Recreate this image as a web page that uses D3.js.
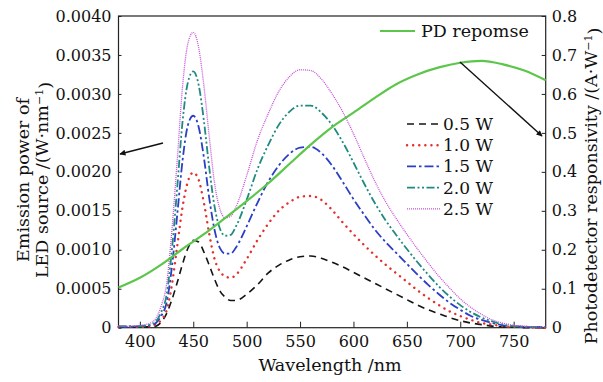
<!DOCTYPE html>
<html>
<head>
<meta charset="utf-8">
<script src="https://cdn.jsdelivr.net/npm/d3@7"></script>
<style>
  body { margin: 0; background: #fff; }
  svg text { font-family: "DejaVu Serif", serif; fill: #111; }
</style>
</head>
<body>
<div id="chart"></div>
<script>
// wavelength grid (nm)
const wavelengths = [380, 390, 400, 410, 415, 420, 425, 430, 435, 440, 445, 450, 455, 460, 465, 470, 475, 480, 485, 490,
  500, 510, 520, 530, 540, 550, 560, 570, 580, 590, 600, 610, 620, 630, 640, 650, 660, 670, 680, 690,
  700, 710, 720, 730, 740, 750, 760, 770, 780];

// emission power, W/nm
const p05 = [0.00001, 0.00001, 0.00001, 0.00001, 0.00002, 0.00007, 0.00018, 0.00036, 0.00058, 0.00082, 0.00102, 0.00112, 0.00110, 0.00097, 0.00080, 0.00062, 0.00047, 0.00039, 0.00035, 0.00035,
  0.00043, 0.00055, 0.00070, 0.00080, 0.00087, 0.00091, 0.00092, 0.00089, 0.00084, 0.00078, 0.00071, 0.00064, 0.00057, 0.00050, 0.00043, 0.00036, 0.00029, 0.00023, 0.00018, 0.00013,
  0.00009, 0.00006, 0.00004, 0.00002, 0.00001, 0.00001, 0, 0, 0];
const p10 = [0.00001, 0.00001, 0.00001, 0.00002, 0.00004, 0.00010, 0.00022, 0.00055, 0.00105, 0.00155, 0.00188, 0.00199, 0.00190, 0.00160, 0.00120, 0.00088, 0.00072, 0.00066, 0.00064, 0.00068,
  0.00088, 0.00112, 0.00133, 0.00150, 0.00161, 0.00168, 0.00169, 0.00164, 0.00151, 0.00135, 0.00120, 0.00106, 0.00093, 0.00081, 0.00070, 0.00059, 0.00048, 0.00038, 0.00029, 0.00021,
  0.00015, 0.00010, 0.00006, 0.00004, 0.00002, 0.00001, 0.00001, 0, 0];
const p15 = [0.00001, 0.00001, 0.00002, 0.00003, 0.00006, 0.00015, 0.00032, 0.00078, 0.00145, 0.00215, 0.00260, 0.00272, 0.00258, 0.00218, 0.00166, 0.00125, 0.00102, 0.00095, 0.00095, 0.00103,
  0.00130, 0.00160, 0.00187, 0.00208, 0.00223, 0.00231, 0.00232, 0.00224, 0.00208, 0.00187, 0.00165, 0.00145, 0.00126, 0.00110, 0.00096, 0.00082, 0.00068, 0.00055, 0.00043, 0.00032,
  0.00023, 0.00015, 0.00010, 0.00006, 0.00003, 0.00002, 0.00001, 0.00001, 0.00001];
const p20 = [0.00002, 0.00002, 0.00002, 0.00004, 0.00008, 0.00020, 0.00042, 0.00100, 0.00180, 0.00265, 0.00315, 0.00329, 0.00312, 0.00265, 0.00205, 0.00155, 0.00127, 0.00118, 0.00119, 0.00130,
  0.00164, 0.00203, 0.00234, 0.00260, 0.00277, 0.00285, 0.00285, 0.00276, 0.00260, 0.00238, 0.00212, 0.00185, 0.00160, 0.00138, 0.00119, 0.00101, 0.00084, 0.00068, 0.00053, 0.00040,
  0.00029, 0.00020, 0.00013, 0.00008, 0.00004, 0.00002, 0.00001, 0.00001, 0.00001];
const p25 = [0.00002, 0.00002, 0.00003, 0.00006, 0.00012, 0.00028, 0.00056, 0.00125, 0.00215, 0.00310, 0.00365, 0.00379, 0.00360, 0.00310, 0.00245, 0.00185, 0.00152, 0.00141, 0.00143, 0.00155,
  0.00195, 0.00240, 0.00274, 0.00303, 0.00322, 0.00331, 0.00330, 0.00319, 0.00300, 0.00277, 0.00249, 0.00218, 0.00188, 0.00162, 0.00140, 0.00120, 0.00101, 0.00083, 0.00066, 0.00051,
  0.00037, 0.00026, 0.00017, 0.00010, 0.00006, 0.00003, 0.00002, 0.00001, 0.00001];

// photodetector responsivity, A/W
const pdWavelengths = [380, 400, 420, 440, 460, 480, 500, 520, 540, 560, 580, 600, 620, 640, 660, 680, 700, 720, 740, 760, 780];
const pdResponse = [0.103, 0.128, 0.162, 0.202, 0.240, 0.282, 0.325, 0.370, 0.420, 0.470, 0.515, 0.552, 0.590, 0.625, 0.650, 0.668, 0.680, 0.685, 0.676, 0.660, 0.635];

const seriesNames = ["0.5 W", "1.0 W", "1.5 W", "2.0 W", "2.5 W"];
const xTicks = [400, 450, 500, 550, 600, 650, 700, 750];
const leftTicks = [0, 0.0005, 0.001, 0.0015, 0.002, 0.0025, 0.003, 0.0035, 0.004];
const rightTicks = [0, 0.1, 0.2, 0.3, 0.4, 0.5, 0.6, 0.7, 0.8];

const W = 603, H = 382;
const plot = { left: 118.5, right: 545.7, top: 16, bottom: 327.7 };

const svg = d3.select("#chart").append("svg")
  .attr("width", W).attr("height", H);

const x = d3.scaleLinear().domain([380, 780]).range([plot.left, plot.right]);
const yL = d3.scaleLinear().domain([0, 0.004]).range([plot.bottom, plot.top]);
const yR = d3.scaleLinear().domain([0, 0.8]).range([plot.bottom, plot.top]);

const styles = [
  { color: "#141414", dash: "7,5", width: 1.6, cap: "butt" },
  { color: "#e3302b", dash: "0.1,6", width: 2.4, cap: "round" },
  { color: "#2b3ec6", dash: "9,3,2.5,3", width: 1.8, cap: "butt" },
  { color: "#1f8a80", dash: "8,2.5,2,2.5,2,2.5", width: 1.8, cap: "butt" },
  { color: "#c651d8", dash: "1,1", width: 1.3, cap: "butt" }
];
const powers = [p05, p10, p15, p20, p25];

// axes
const fmtL = d => d === 0 ? "0" : d3.format(".4f")(d);
const fmtR = d => d === 0 ? "0" : d3.format(".1f")(d);

const gx = svg.append("g")
  .attr("transform", `translate(0,${plot.bottom})`)
  .call(d3.axisBottom(x).tickValues(xTicks).tickSizeInner(-6).tickSizeOuter(0).tickPadding(5));
const gl = svg.append("g")
  .attr("transform", `translate(${plot.left},0)`)
  .call(d3.axisLeft(yL).tickValues(leftTicks).tickFormat(fmtL).tickSizeInner(-3).tickSizeOuter(0).tickPadding(7));
const gr = svg.append("g")
  .attr("transform", `translate(${plot.right},0)`)
  .call(d3.axisRight(yR).tickValues(rightTicks).tickFormat(fmtR).tickSizeInner(-4).tickSizeOuter(0).tickPadding(6));

[gx, gl, gr].forEach(g => {
  g.select(".domain").remove();
  g.selectAll("line").attr("stroke", "#222").attr("stroke-width", 1);
  g.selectAll("text").style("font-size", "16px").attr("fill", "#111");
});
gx.selectAll("text").attr("dy", "0.9em");

svg.append("rect")
  .attr("x", plot.left).attr("y", plot.top)
  .attr("width", plot.right - plot.left).attr("height", plot.bottom - plot.top)
  .attr("fill", "none").attr("stroke", "#222").attr("stroke-width", 1.2);

// emission curves
const lineL = d3.line()
  .x((d, i) => x(wavelengths[i]))
  .y(d => yL(d))
  .curve(d3.curveMonotoneX);

powers.forEach((vals, i) => {
  svg.append("path")
    .datum(vals)
    .attr("fill", "none")
    .attr("stroke", styles[i].color)
    .attr("stroke-width", styles[i].width)
    .attr("stroke-dasharray", styles[i].dash)
    .attr("stroke-linecap", styles[i].cap)
    .attr("d", lineL);
});

// PD response
svg.append("path")
  .datum(pdResponse)
  .attr("fill", "none")
  .attr("stroke", "#5cc64b")
  .attr("stroke-width", 2.2)
  .attr("d", d3.line()
    .x((d, i) => x(pdWavelengths[i]))
    .y(d => yR(d))
    .curve(d3.curveMonotoneX));

// legend
svg.append("line")
  .attr("x1", 380).attr("x2", 415).attr("y1", 31).attr("y2", 31)
  .attr("stroke", "#5cc64b").attr("stroke-width", 2.2);
svg.append("text")
  .attr("x", 421).attr("y", 37)
  .style("font-size", "17.5px")
  .text("PD repomse");

seriesNames.forEach((name, i) => {
  const yy = 124 + i * 21.2;
  svg.append("line")
    .attr("x1", 407).attr("x2", 441).attr("y1", yy).attr("y2", yy)
    .attr("stroke", styles[i].color)
    .attr("stroke-width", styles[i].width)
    .attr("stroke-dasharray", styles[i].dash)
    .attr("stroke-linecap", styles[i].cap);
  svg.append("text")
    .attr("x", 443).attr("y", yy + 6)
    .style("font-size", "17px")
    .text(name);
});

// arrows
const defs = svg.append("defs");
defs.append("marker")
  .attr("id", "arrow")
  .attr("viewBox", "0 0 10 10")
  .attr("refX", 9).attr("refY", 5)
  .attr("markerWidth", 7).attr("markerHeight", 6)
  .attr("markerUnits", "userSpaceOnUse")
  .attr("orient", "auto")
  .append("path").attr("d", "M0,0 L10,5 L0,10 Z").attr("fill", "#111");

svg.append("line")
  .attr("x1", 163).attr("y1", 143).attr("x2", 120).attr("y2", 154)
  .attr("stroke", "#111").attr("stroke-width", 1.4).attr("marker-end", "url(#arrow)");
svg.append("line")
  .attr("x1", 460).attr("y1", 62).attr("x2", 542).attr("y2", 136)
  .attr("stroke", "#111").attr("stroke-width", 1.4).attr("marker-end", "url(#arrow)");

// axis titles
svg.append("text")
  .attr("x", 330).attr("y", 371)
  .attr("text-anchor", "middle")
  .style("font-size", "17.5px")
  .text("Wavelength /nm");

const leftTitle = svg.append("text")
  .attr("transform", "translate(29,180) rotate(-90)")
  .attr("text-anchor", "middle")
  .style("font-size", "17.5px");
leftTitle.append("tspan").attr("x", 0).attr("dy", 0).text("Emission power of");
const l2 = leftTitle.append("tspan").attr("x", 0).attr("dy", "1.1em");
l2.append("tspan").text("LED source /(W·nm");
l2.append("tspan").attr("dy", "-0.45em").style("font-size", "11px").text("−1");
l2.append("tspan").attr("dy", "0.45em").text(")");

const rightTitle = svg.append("text")
  .attr("transform", "translate(597,186) rotate(-90)")
  .attr("text-anchor", "middle")
  .style("font-size", "17.5px");
rightTitle.append("tspan").text("Photodetector responsivity /(A·W");
rightTitle.append("tspan").attr("dy", "-0.45em").style("font-size", "11px").text("−1");
rightTitle.append("tspan").attr("dy", "0.45em").text(")");
</script>
</body>
</html>
